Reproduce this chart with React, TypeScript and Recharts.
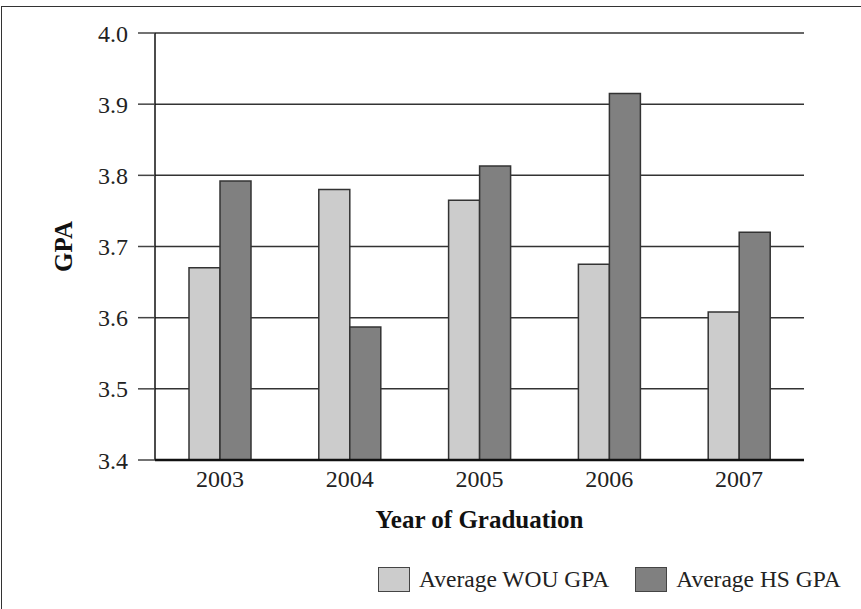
import React from "react";
import { BarChart, Bar, XAxis, YAxis, CartesianGrid } from "recharts";

const years = ["2003", "2004", "2005", "2006", "2007"];
const wouGpa = [3.67, 3.78, 3.765, 3.675, 3.608];
const hsGpa = [3.792, 3.587, 3.813, 3.915, 3.72];
const yTicks = [3.4, 3.5, 3.6, 3.7, 3.8, 3.9, 4.0];

const LIGHT = "#cccccc";
const DARK = "#808080";
const FONT = "'Liberation Serif', 'Times New Roman', serif";

const data = years.map((year, i) => ({ year, wou: wouGpa[i], hs: hsGpa[i] }));

// legend with boxes instead of the default icons
function GpaLegend() {
  const items = [
    { name: "Average WOU GPA", color: LIGHT },
    { name: "Average HS GPA", color: DARK },
  ];
  return (
    <div
      style={{
        position: "absolute",
        left: 378,
        top: 566,
        display: "flex",
        alignItems: "center",
        gap: 26,
        fontFamily: FONT,
        fontSize: 23.5,
        color: "#222",
        whiteSpace: "nowrap",
      }}
    >
      {items.map((item) => (
        <div key={item.name} style={{ display: "flex", alignItems: "center", gap: 9 }}>
          <span style={{ width: 30, height: 23, background: item.color, border: "1.5px solid #444", display: "inline-block" }} />
          <span>{item.name}</span>
        </div>
      ))}
    </div>
  );
}

export default function App() {
  return (
    <div style={{ position: "absolute", left: 0, top: 0, width: 861, height: 609, overflow: "hidden", background: "#fff" }}>
      <div style={{ position: "absolute", left: 1, top: 6, width: 900, height: 700, border: "1.5px solid #333" }} />
      <BarChart
        width={861}
        height={609}
        data={data}
        margin={{ top: 33, right: 57, left: 0, bottom: 109 }}
        barGap={0}
        barSize={31}
        style={{ fontFamily: FONT }}
      >
        <CartesianGrid vertical={false} stroke="#333" strokeWidth={1.5} />
        <XAxis
          dataKey="year"
          height={40}
          tickLine={false}
          tickSize={0}
          tickMargin={10}
          axisLine={{ stroke: "#111", strokeWidth: 2.5 }}
          tick={{ fill: "#222", fontSize: 24, fontFamily: FONT }}
          label={{
            content: ({ viewBox }: any) => (
              <text
                x={viewBox.x + viewBox.width / 2}
                y={viewBox.y + viewBox.height + 28}
                textAnchor="middle"
                fontFamily={FONT}
                fontSize={25}
                fontWeight="bold"
                fill="#111"
              >
                Year of Graduation
              </text>
            ),
          }}
        />
        <YAxis
          width={155}
          domain={[3.4, 4.0]}
          ticks={yTicks}
          interval={0}
          tickFormatter={(v: number) => v.toFixed(1)}
          tickSize={17}
          tickMargin={10}
          tickLine={{ stroke: "#444", strokeWidth: 1.5 }}
          axisLine={{ stroke: "#111", strokeWidth: 1.5 }}
          tick={{ fill: "#222", fontSize: 24, fontFamily: FONT }}
          label={{
            content: ({ viewBox }: any) => {
              const cx = viewBox.x + 63;
              const cy = viewBox.y + viewBox.height / 2;
              return (
                <text
                  x={cx}
                  y={cy}
                  transform={`rotate(-90 ${cx} ${cy})`}
                  textAnchor="middle"
                  dominantBaseline="central"
                  fontFamily={FONT}
                  fontSize={25}
                  fontWeight="bold"
                  fill="#111"
                >
                  GPA
                </text>
              );
            },
          }}
        />
        <YAxis
          yAxisId="right"
          orientation="right"
          width={0}
          domain={[3.4, 4.0]}
          tick={false}
          tickLine={false}
          axisLine={{ stroke: "#666", strokeWidth: 2.5 }}
        />
        <Bar dataKey="wou" name="Average WOU GPA" fill={LIGHT} stroke="#333" strokeWidth={1.5} isAnimationActive={false} />
        <Bar dataKey="hs" name="Average HS GPA" fill={DARK} stroke="#333" strokeWidth={1.5} isAnimationActive={false} />
      </BarChart>
      <GpaLegend />
    </div>
  );
}
